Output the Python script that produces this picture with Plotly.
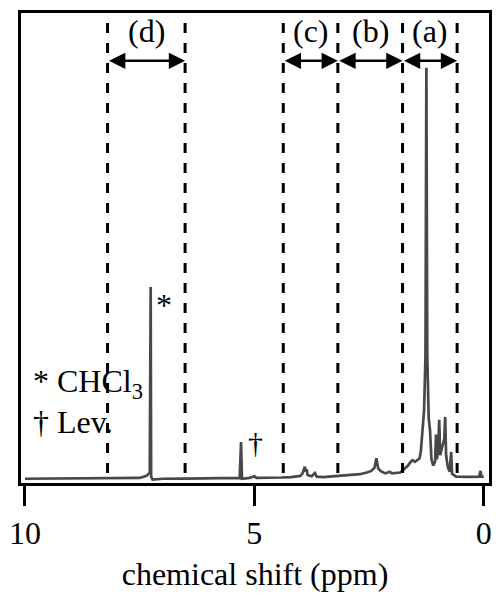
import plotly.graph_objects as go

# Traced 1H NMR spectrum (chemical shift in ppm, relative intensity)
shift_ppm = [10.0, 9.0, 8.0, 7.5, 7.35, 7.28, 7.26, 7.25, 7.22, 7.0, 6.5, 6.0, 5.6,
             5.32, 5.29, 5.27, 5.1, 5.0, 4.95, 4.7, 4.4, 4.2, 4.0, 3.95, 3.92, 3.90,
             3.88, 3.86, 3.84, 3.75, 3.68, 3.64, 3.5, 3.3, 3.1, 2.9, 2.7, 2.55, 2.45,
             2.38, 2.34, 2.30, 2.25, 2.15, 2.05, 2.0, 1.9, 1.82, 1.75, 1.65, 1.6, 1.55,
             1.5, 1.45, 1.40, 1.37, 1.34, 1.30, 1.27, 1.25, 1.23, 1.20, 1.17, 1.14,
             1.10, 1.06, 1.04, 1.02, 0.99, 0.97, 0.95, 0.90, 0.86, 0.84, 0.82, 0.78,
             0.74, 0.71, 0.69, 0.6, 0.5, 0.3, 0.1, 0.07, 0.05, 0.0]
intensity = [0.3, 0.35, 0.3, 0.5, 1.0, 1.8, 46.8, 0.8, 0.1, 0.3, 0.35, 0.4, 0.4,
             0.5, 9.2, 0.3, 0.5, 0.9, 0.5, 0.5, 0.6, 0.7, 1.0, 1.6, 2.4, 3.2,
             2.0, 2.6, 1.2, 0.9, 1.7, 0.8, 0.7, 0.9, 1.0, 1.2, 1.4, 1.8, 2.2,
             3.0, 5.3, 2.8, 2.2, 1.6, 2.0, 1.6, 1.8, 1.8, 2.5, 3.5, 4.3, 4.8,
             4.4, 4.7, 5.2, 7.0, 11.0, 17.0, 30.0, 100.0, 30.0, 15.0, 12.0, 5.0,
             3.5, 4.5, 11.0, 5.0, 8.0, 14.6, 6.0, 8.0, 10.0, 15.3, 6.0, 3.0,
             2.0, 6.8, 1.5, 0.8, 0.75, 0.75, 0.8, 2.2, 0.8, 0.8]

# Integration regions (ppm boundaries) and their labels
region_bounds = [8.2, 6.51, 4.37, 3.18, 1.77, 0.58]
region_pairs = [(8.2, 6.51), (4.37, 3.18), (3.18, 1.77), (1.77, 0.58)]
region_labels = ["(d)", "(c)", "(b)", "(a)"]

x_ticks = [10, 5, 0]
x_tick_labels = ["10", "5", "0"]

FONT = "Liberation Serif, Times New Roman, serif"

fig = go.Figure()
fig.add_trace(go.Scatter(x=shift_ppm, y=intensity, mode="lines",
                         line=dict(color="#484848", width=2.7),
                         showlegend=False, hoverinfo="skip"))

Y_TOP = 113.3
for xb in region_bounds:
    fig.add_shape(type="line", xref="x", yref="y", x0=xb, x1=xb, y0=1.7, y1=Y_TOP,
                  line=dict(color="black", width=3, dash="10px,10px"))

ARROW_Y = 101.7
LABEL_Y = 109.0
for (a, b), lab in zip(region_pairs, region_labels):
    fig.add_annotation(x=b, y=ARROW_Y, ax=a, ay=ARROW_Y, xref="x", yref="y",
                       axref="x", ayref="y", text="", showarrow=True,
                       arrowhead=2, arrowside="end+start", arrowsize=1.3,
                       arrowwidth=2.5, arrowcolor="black")
    fig.add_annotation(x=(a + b) / 2, y=LABEL_Y, xref="x", yref="y", text=lab,
                       showarrow=False, font=dict(family=FONT, size=32, color="black"),
                       xanchor="center", yanchor="middle")

# peak markers
fig.add_annotation(x=6.97, y=42.5, xref="x", yref="y", text="*", showarrow=False,
                   font=dict(family=FONT, size=32, color="black"))
fig.add_annotation(x=4.97, y=9.0, xref="x", yref="y", text="†", showarrow=False,
                   font=dict(family=FONT, size=30, color="black"))
# key
fig.add_annotation(x=9.87, y=23.5, xref="x", yref="y", text="* CHCl<sub>3</sub>",
                   showarrow=False, xanchor="left", yanchor="middle",
                   font=dict(family=FONT, size=32, color="black"))
fig.add_annotation(x=9.87, y=14.0, xref="x", yref="y", text="† Lev.",
                   showarrow=False, xanchor="left", yanchor="middle",
                   font=dict(family=FONT, size=32, color="black"))

fig.update_layout(
    width=496, height=594,
    margin=dict(l=21, r=4, t=13, b=111),
    paper_bgcolor="white", plot_bgcolor="white",
    font=dict(family=FONT, size=32, color="black"),
    showlegend=False,
)
fig.update_xaxes(range=[10.087, -0.115], tickvals=x_ticks, ticktext=x_tick_labels,
                 ticks="outside", ticklen=20, tickwidth=3, tickcolor="black",
                 showline=True, linewidth=3, linecolor="black", mirror=True,
                 showgrid=False, zeroline=False,
                 tickfont=dict(family=FONT, size=32),
                 title=dict(text="chemical shift (ppm)", font=dict(family=FONT, size=32),
                            standoff=13))
fig.update_yaxes(range=[-0.73, Y_TOP], showticklabels=False, ticks="",
                 showline=True, linewidth=3, linecolor="black", mirror=True,
                 showgrid=False, zeroline=False)

fig.write_html("out.html")
